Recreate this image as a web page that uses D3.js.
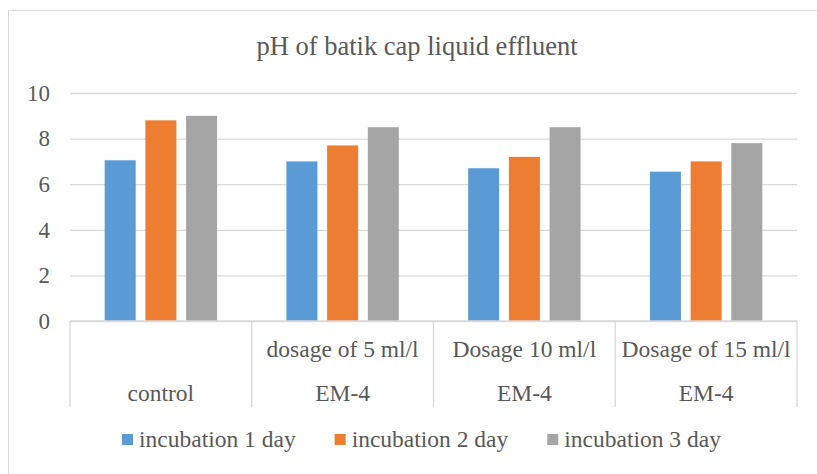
<!DOCTYPE html>
<html>
<head>
<meta charset="utf-8">
<script src="https://cdn.jsdelivr.net/npm/d3@7"></script>
<style>
  body { margin: 0; background: #fff; }
  text { font-family: "Liberation Serif", "Times New Roman", serif; fill: #595959; }
</style>
</head>
<body>
<svg id="chart" width="817" height="474"></svg>
<script>
// data
const categories = ['control', 'dose5', 'dose10', 'dose15'];
const catLine1 = ['', 'dosage of 5 ml/l', 'Dosage 10 ml/l', 'Dosage of 15 ml/l'];
const catLine2 = ['control', 'EM-4', 'EM-4', 'EM-4'];
const seriesNames = ['incubation 1 day', 'incubation 2 day', 'incubation 3 day'];
const day1 = [7.05, 7.0, 6.7, 6.55];
const day2 = [8.8, 7.7, 7.2, 7.0];
const day3 = [9.0, 8.5, 8.5, 7.8];
const yTicks = [0, 2, 4, 6, 8, 10];
const colors = ['#5b9bd5', '#ed7d31', '#a5a5a5'];

const seriesValues = [day1, day2, day3];
const rows = categories.map((c, i) => ({
  cat: c,
  values: seriesNames.map((s, j) => ({series: s, value: seriesValues[j][i]}))
}));

// layout
const margin = {top: 93, left: 70, right: 20, bottom: 153};
const svg = d3.select('#chart');
const W = 817, H = 474;
const width = 727;
const height = 228;

// chart border
svg.append('rect')
  .attr('x', 8.5).attr('y', 10.5)
  .attr('width', 1000).attr('height', 1000)
  .attr('fill', 'none').attr('stroke', '#d9d9d9');

const g = svg.append('g').attr('transform', `translate(${margin.left},${margin.top})`);

// scales
const x0 = d3.scaleBand().domain(categories).range([0, width]).padding(0);
const x1 = d3.scaleBand().domain(seriesNames).range([0, x0.bandwidth()])
  .paddingInner(0.238).paddingOuter(0.852);
const y = d3.scaleLinear().domain([0, 10]).range([height, 0]);

// gridlines
g.append('g')
  .call(d3.axisLeft(y).tickValues(yTicks).tickSize(-width).tickFormat(''))
  .call(a => a.select('.domain').remove())
  .call(a => a.selectAll('line').attr('stroke', '#d9d9d9').attr('stroke-width', 1.3));

// y labels
g.append('g')
  .call(d3.axisLeft(y).tickValues(yTicks).tickSize(0).tickPadding(20))
  .call(a => a.select('.domain').remove())
  .call(a => a.selectAll('text')
    .style('font-size', '23px')
    .style('font-family', '"Liberation Serif", "Times New Roman", serif')
    .attr('fill', '#595959'));

// bars
g.selectAll('.group')
  .data(rows)
  .enter()
  .append('g')
  .attr('class', 'group')
  .attr('transform', d => `translate(${x0(d.cat)},0)`)
  .selectAll('rect')
  .data(d => d.values)
  .enter()
  .append('rect')
  .attr('x', d => x1(d.series))
  .attr('y', d => y(d.value))
  .attr('width', x1.bandwidth())
  .attr('height', d => y(0) - y(d.value))
  .attr('fill', (d, i) => colors[i]);

// category axis
const axisColor = '#d9d9d9';
g.append('line')
  .attr('x1', 0).attr('x2', width)
  .attr('y1', y(0)).attr('y2', y(0))
  .attr('stroke', axisColor).attr('stroke-width', 1.3);

const edges = categories.map(c => x0(c)).concat([width]);
g.selectAll('.sep')
  .data(edges)
  .enter()
  .append('line')
  .attr('class', 'sep')
  .attr('x1', d => d).attr('x2', d => d)
  .attr('y1', y(0)).attr('y2', y(0) + 86)
  .attr('stroke', axisColor).attr('stroke-width', 1.3);

g.selectAll('.cat1')
  .data(categories)
  .enter()
  .append('text')
  .attr('x', d => x0(d) + x0.bandwidth() / 2)
  .attr('y', y(0) + 36)
  .attr('text-anchor', 'middle')
  .style('font-size', '23.5px')
  .text((d, i) => catLine1[i]);

g.selectAll('.cat2')
  .data(categories)
  .enter()
  .append('text')
  .attr('x', d => x0(d) + x0.bandwidth() / 2)
  .attr('y', y(0) + 80)
  .attr('text-anchor', 'middle')
  .style('font-size', '23.5px')
  .text((d, i) => catLine2[i]);

// title
svg.append('text')
  .attr('x', 417)
  .attr('y', 55)
  .attr('text-anchor', 'middle')
  .style('font-size', '26.5px')
  .text('pH of batik cap liquid effluent');

// legend
const legend = svg.append('g').attr('transform', 'translate(0,447)');
let lx = 122;
seriesNames.forEach((s, i) => {
  legend.append('rect')
    .attr('x', lx).attr('y', -13)
    .attr('width', 11).attr('height', 11)
    .attr('fill', colors[i]);
  const t = legend.append('text')
    .attr('x', lx + 17).attr('y', 0)
    .style('font-size', '23.5px')
    .text(s);
  lx += 17 + t.node().getComputedTextLength() + 39;
});
</script>
</body>
</html>
